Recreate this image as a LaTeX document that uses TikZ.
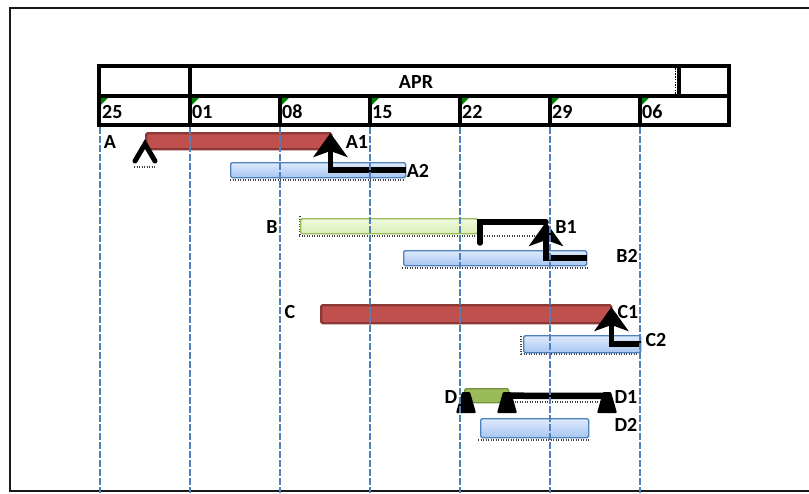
\documentclass[tikz,border=0pt]{standalone}
\usepackage{fontspec}
\setmainfont{Carlito}
\usetikzlibrary{arrows.meta}
\definecolor{redfill}{RGB}{192,80,77}
\definecolor{redline}{RGB}{140,56,54}
\definecolor{blueline}{RGB}{79,129,189}
\definecolor{bluetop}{RGB}{222,234,252}
\definecolor{bluebot}{RGB}{168,198,242}
\definecolor{lgtop}{RGB}{240,250,225}
\definecolor{lgbot}{RGB}{218,240,180}
\definecolor{lgline}{RGB}{155,187,89}
\definecolor{dgfill}{RGB}{155,187,89}
\definecolor{dgline}{RGB}{118,146,60}
\definecolor{tickgreen}{RGB}{0,128,0}
\tikzset{
  lbl/.style={font=\fontsize{20}{23}\selectfont\bfseries, inner sep=0pt},
  datelbl/.style={lbl, anchor=west},
  barbase/.style={anchor=north west, inner sep=0pt, rounded corners=1.5pt},
  redbar/.style={barbase, fill=redfill, draw=redline, line width=2.4pt},
  bluebar/.style={barbase, top color=bluetop, bottom color=bluebot, draw=blueline, line width=1.4pt},
  lgbar/.style={barbase, top color=lgtop, bottom color=lgbot, draw=lgline, line width=1.4pt},
  dgbar/.style={barbase, fill=dgfill, draw=dgline, line width=1.4pt},
  dep/.style={line width=5.5pt, black},
  deparrow/.style={dep, -{Stealth[width=34pt,length=24pt,inset=6pt]}},
  grid/.style={blueline, line width=1.3pt, dash pattern=on 7pt off 2pt},
  shadow/.style={black!75, line width=1.2pt, dash pattern=on 1.2pt off 1.3pt},
  tbl/.style={line width=3.2pt, black},
}
\begin{document}
\begin{tikzpicture}[x=1pt,y=-1pt]
\useasboundingbox (0,0) rectangle (809,493);
\fill[white] (0,0) rectangle (809,493);
% outer frame
\draw[line width=2.8pt, black!90] (809,8) -- (10,8) -- (10,491) -- (809,491);

% header table
\draw[tbl] (99,66) rectangle (729,125);
\draw[tbl] (99,96) -- (729,96);
\draw[tbl] (190,66) -- (190,125);
\draw[tbl] (679,66) -- (679,96);
\draw[black, line width=1.2pt, dash pattern=on 1.5pt off 1.2pt] (675.5,68) -- (675.5,94);
\foreach \x in {280,370,460,550,640}{ \draw[tbl] (\x,96) -- (\x,125); }
\foreach \x in {101,192,282,372,462,552,642}{ \fill[tickgreen] (\x,97.8) -- (\x+7,97.8) -- (\x,104.8) -- cycle; }
\node[lbl] (apr) at (416,82) {APR};
\node[datelbl] (d25) at (102,112) {25};
\node[datelbl] (d01) at (192,112) {01};
\node[datelbl] (d08) at (282,112) {08};
\node[datelbl] (d15) at (372,112) {15};
\node[datelbl] (d22) at (462,112) {22};
\node[datelbl] (d29) at (552,112) {29};
\node[datelbl] (d06) at (642,112) {06};

% shadows
\draw[shadow] (230,180) -- (405,180);
\draw[shadow] (299,236) -- (540,236);
\draw[shadow] (402,268) -- (588,268);
\draw[shadow] (521,354) -- (640,354);
\draw[shadow] (478,440) -- (590,440);
\draw[shadow] (512,402) -- (600,402);
\draw[shadow] (300,216) -- (300,236);
\draw[shadow] (521,336) -- (521,354);
\draw[shadow] (134,167) -- (156,167);

% bars
\node[redbar, minimum width=185pt, minimum height=16pt] (barA) at (145,132) {};
\node[bluebar, minimum width=175pt, minimum height=15pt] (barA2) at (230,162) {};
\node[lgbar, minimum width=177pt, minimum height=15pt] (barB) at (300,218) {};
\node[bluebar, minimum width=183pt, minimum height=15pt] (barB2) at (403,250) {};
\node[redbar, minimum width=290pt, minimum height=18pt] (barC) at (320,304) {};
\node[bluebar, minimum width=117pt, minimum height=17pt] (barC2) at (523,335) {};
\node[dgbar, minimum width=44pt, minimum height=14pt] (barD) at (464,388) {};
\node[bluebar, minimum width=108pt, minimum height=19pt] (barD2) at (480,418) {};

% connectors
\coordinate (Astart) at (145,144);
\draw[line width=5pt, line cap=round, line join=miter] ([xshift=-10pt,yshift=-17pt]Astart) -- (Astart) -- ([xshift=10pt,yshift=-17pt]Astart);
\draw[deparrow] (barA2.east) -| ([xshift=-2pt,yshift=-1pt]barA.north east);

\coordinate (Bj) at (546,222);
\coordinate (Bs) at (480,243);
\draw[dep, line cap=round] (Bs) |- (Bj);
\draw[deparrow] (barB2.east) -| (Bj);

\draw[deparrow] (barC2.east) -| ([xshift=-1pt,yshift=-3pt]barC.north east);

\coordinate (f1) at (466,413);
\coordinate (f2) at (507,413);
\coordinate (f3) at (607,413);
\coordinate (f3top) at (607,396);
\draw[line width=6.5pt] (barD.east) -- (f3top);
\foreach \f in {f1,f2,f3}{
  \fill[rounded corners=1pt] (\f) ++(-10,0) -- ++(20,0) -- ++(-6,-21) -- ++(-8,0) -- cycle;
}

% grid lines
\foreach \x in {100,190,280,370,460,550,640}{ \draw[grid] (\x,127) -- (\x,493); }

% labels
\node[lbl] (lA) at (110,142) {A};
\node[lbl] (lA1) at (357,142) {A1};
\node[lbl] (lA2) at (418,171) {A2};
\node[lbl] (lB) at (272,227) {B};
\node[lbl] (lB1) at (566,227) {B1};
\node[lbl] (lB2) at (627,256) {B2};
\node[lbl] (lC) at (290,312) {C};
\node[lbl] (lC1) at (628,312) {C1};
\node[lbl] (lC2) at (656,340) {C2};
\node[lbl] (lD) at (451,397) {D};
\node[lbl] (lD1) at (626,397) {D1};
\node[lbl] (lD2) at (626,425) {D2};
\end{tikzpicture}
\end{document}
